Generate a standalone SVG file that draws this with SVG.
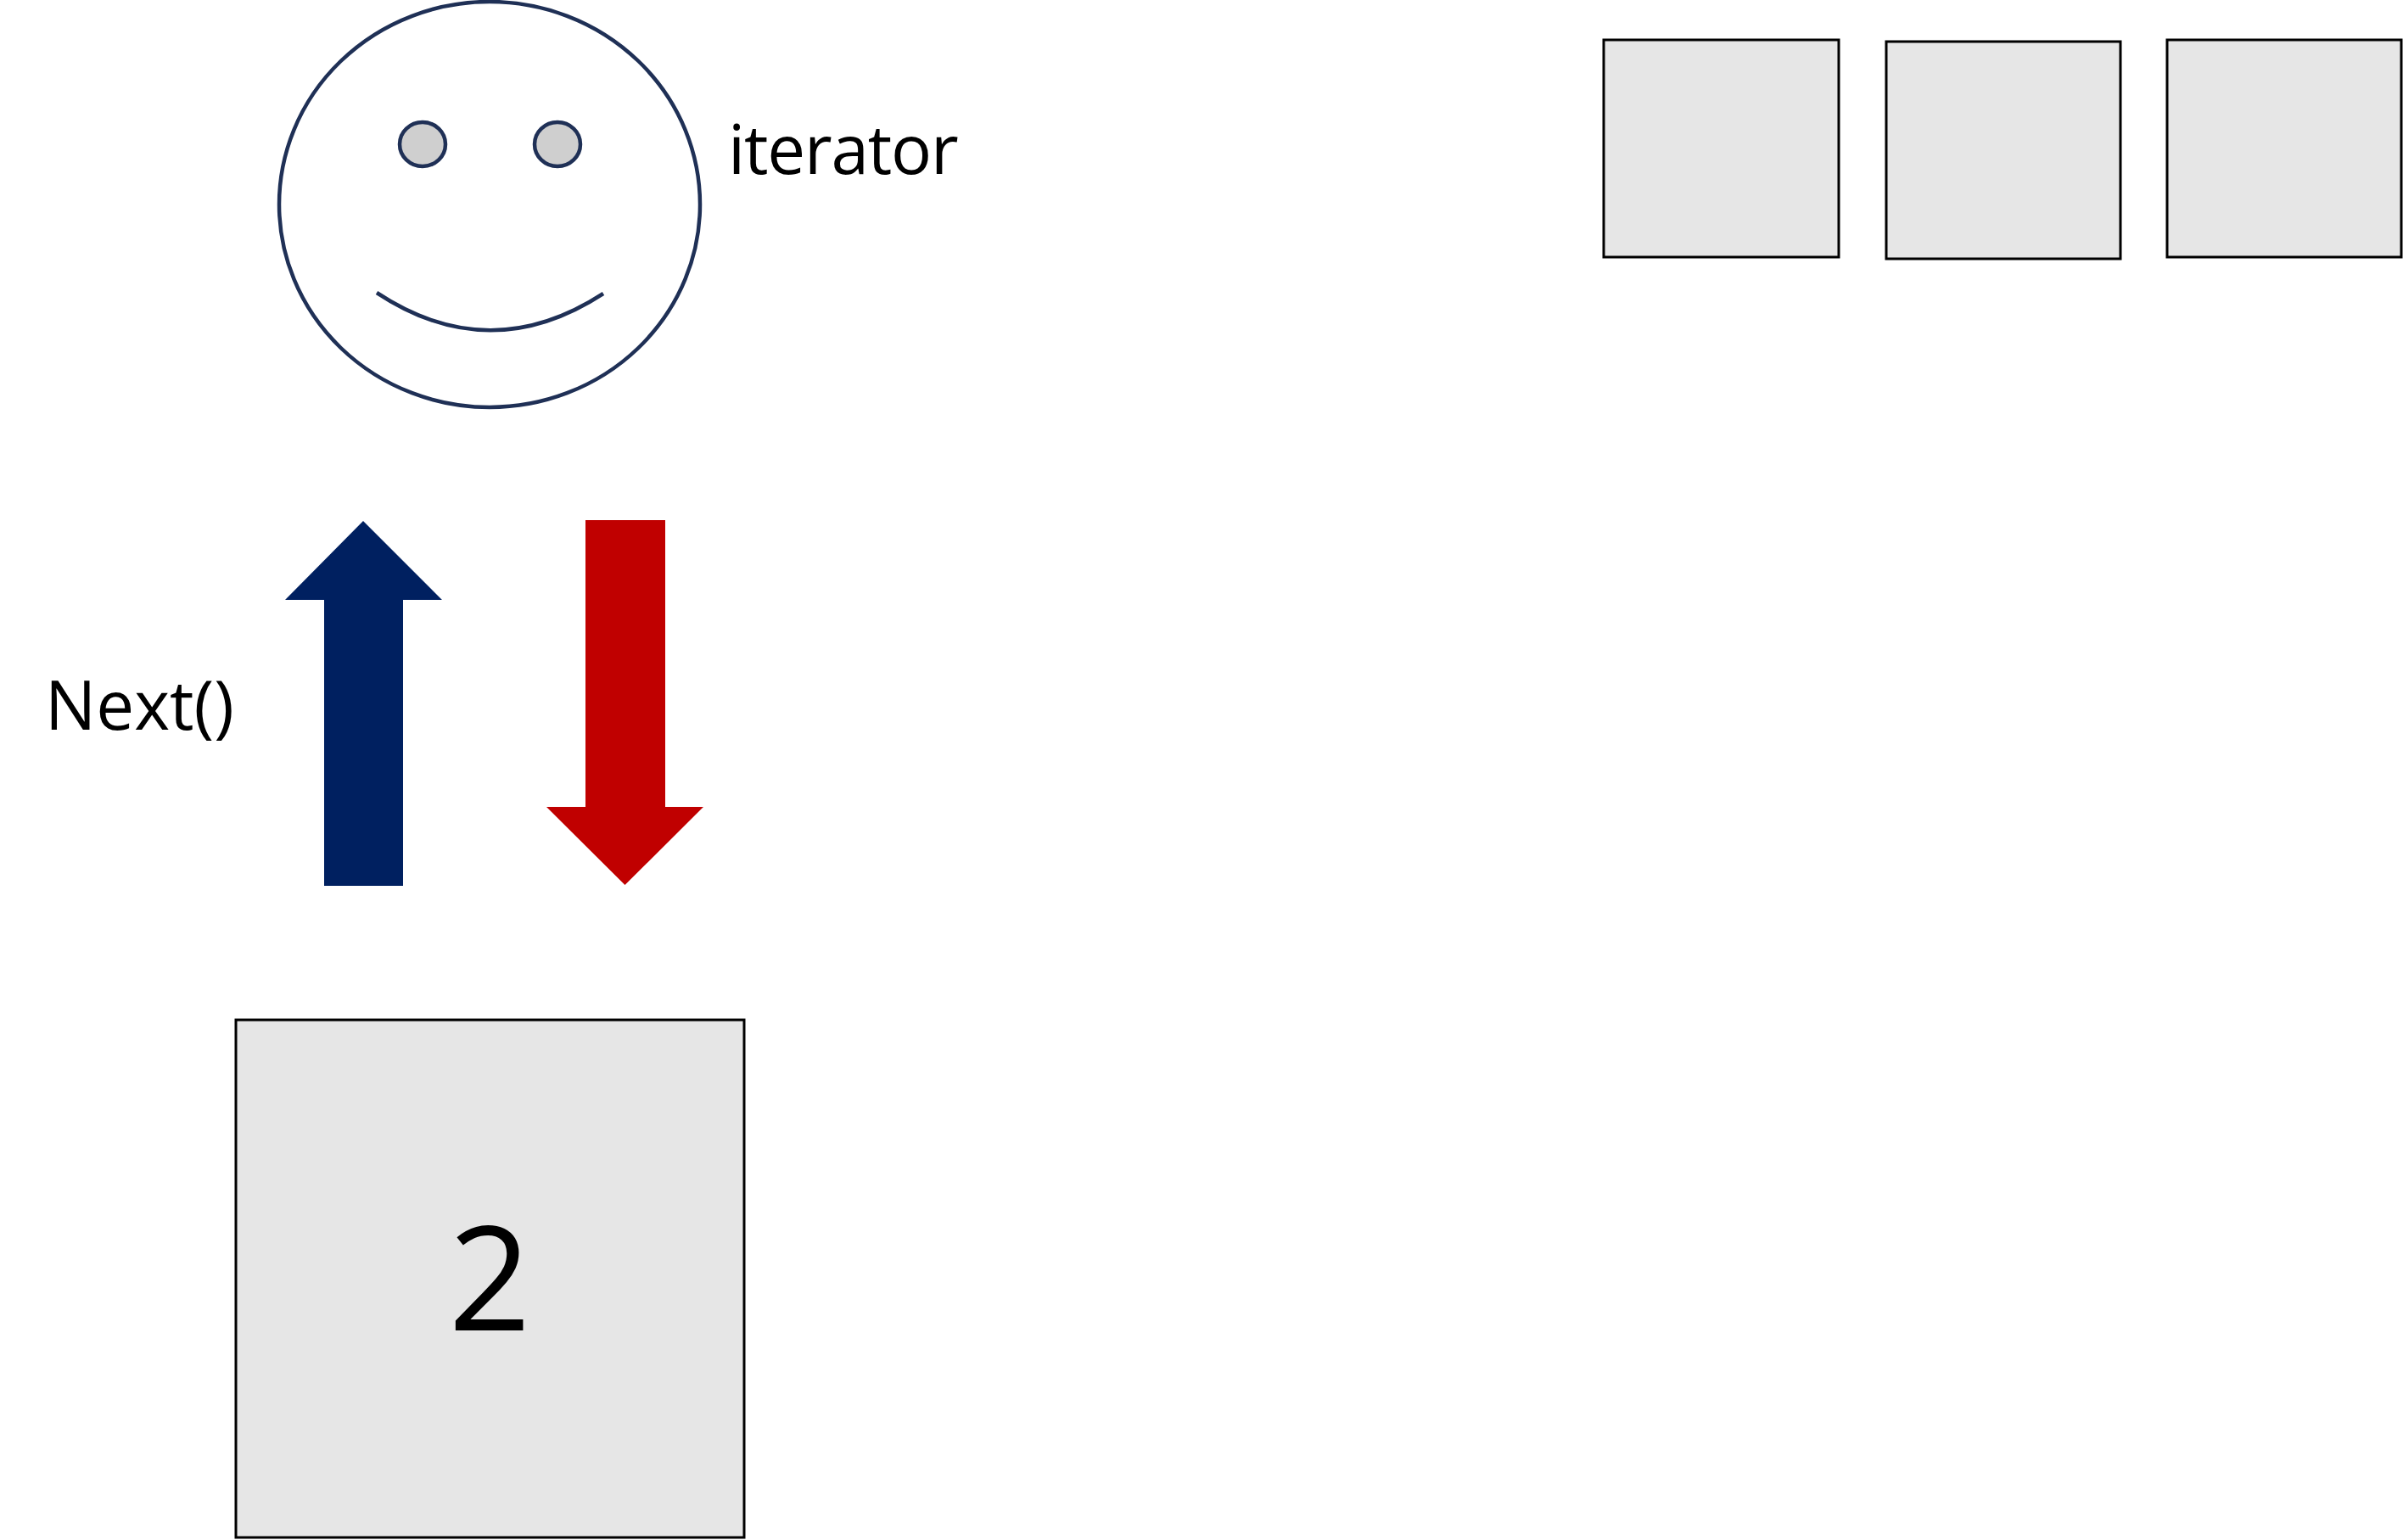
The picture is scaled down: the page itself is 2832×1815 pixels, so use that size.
<svg xmlns="http://www.w3.org/2000/svg" width="2832" height="1815" viewBox="0 0 2832 1815">
  <style>
    .lbl { font-family: "Open Sans", "Noto Sans", "DejaVu Sans", sans-serif; fill: #000; }
    .box { fill: #e6e6e6; stroke: #000; stroke-width: 3; }
    .face { fill: none; stroke: #1f3056; stroke-width: 4.5; }
    .eye { fill: #cfcfcf; stroke: #1f3056; stroke-width: 4.5; }
  </style>
  <rect width="2832" height="1815" fill="#ffffff"/>

  <g id="iterator">
    <ellipse class="face" cx="577" cy="241" rx="248" ry="239"/>
    <ellipse class="eye" cx="498" cy="170" rx="27" ry="26"/>
    <ellipse class="eye" cx="657" cy="170" rx="27" ry="26"/>
    <path class="face" d="M 444 345 Q 577 433 711 346"/>
    <text class="lbl" x="858" y="205" font-size="80" letter-spacing="-1.2">iterator</text>
  </g>

  <g id="box-a">
    <rect class="box" x="1890" y="47" width="277" height="256"/>
  </g>
  <g id="box-b">
    <rect class="box" x="2223" y="49" width="276" height="256"/>
  </g>
  <g id="box-c">
    <rect class="box" x="2554" y="47" width="276" height="256"/>
  </g>

  <g id="current">
    <rect class="box" x="278" y="1202" width="599" height="610"/>
    <text class="lbl" x="577" y="1568" font-size="170" text-anchor="middle">2</text>
  </g>

  <g id="connectors">
    <polygon fill="#002060" points="428,614 521,707 475,707 475,1044 382,1044 382,707 336,707"/>
    <polygon fill="#c00000" points="690,613 784,613 784,951 829,951 736.5,1043 644,951 690,951"/>
  </g>

  <g id="next-label">
    <text class="lbl" x="53" y="860" font-size="80">Next()</text>
  </g>
</svg>
